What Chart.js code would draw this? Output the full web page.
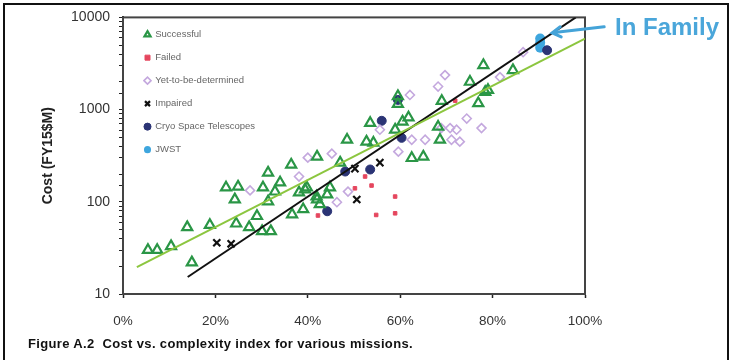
<!DOCTYPE html>
<html>
<head>
<meta charset="utf-8">
<script src="https://cdn.jsdelivr.net/npm/chart.js@4.4.1/dist/chart.umd.min.js"></script>
<style>
  html, body { margin: 0; padding: 0; background: #fff; }
  #wrap { position: relative; width: 731px; height: 360px; overflow: hidden; }
  #frame { position: absolute; left: 3px; top: 3px; width: 726px; height: 362px; border: 2px solid #111; box-sizing: border-box; pointer-events: none; }
  canvas { position: absolute; left: 0; top: 0; }
  #caption { position: absolute; left: 28px; top: 336px; font: bold 13px "Liberation Sans", Arial, sans-serif; letter-spacing: 0.35px; white-space: pre; color: #111; }
</style>
</head>
<body>
<div id="wrap">
  <canvas id="chart" width="731" height="360"></canvas>
  <div id="frame"></div>
  <div id="caption">Figure A.2  Cost vs. complexity index for various missions.</div>
</div>
<script>
// complexity index (fraction) vs cost (FY15 $M)
const successful = [
  [0.054, 30], [0.074, 30], [0.104, 33], [0.149, 22], [0.139, 53], [0.188, 56],
  [0.223, 143], [0.249, 146], [0.242, 106], [0.245, 58], [0.273, 53], [0.290, 70],
  [0.301, 48], [0.320, 48], [0.303, 143], [0.314, 207], [0.340, 162], [0.329, 129],
  [0.314, 101], [0.364, 253], [0.366, 73], [0.381, 126], [0.390, 83], [0.398, 143],
  [0.420, 309], [0.420, 106], [0.442, 120], [0.448, 143], [0.470, 266], [0.485, 471],
  [0.527, 449], [0.535, 715], [0.542, 437], [0.595, 1400], [0.595, 1150], [0.605, 740],
  [0.618, 820], [0.589, 605], [0.690, 1240], [0.682, 651], [0.686, 471], [0.784, 1552],
  [0.769, 1170], [0.751, 2000], [0.780, 3035], [0.625, 298], [0.650, 309], [0.844, 2680],
  [0.419, 114], [0.426, 94], [0.394, 136], [0.790, 1632]
];
const failed = [
  [0.422, 71], [0.502, 140], [0.524, 188], [0.538, 150], [0.548, 72], [0.589, 75],
  [0.589, 114], [0.719, 1250]
];
const yetToBeDetermined = [
  [0.275, 133], [0.381, 188], [0.400, 301], [0.452, 333], [0.463, 99], [0.487, 129],
  [0.556, 605], [0.596, 350], [0.621, 1442], [0.682, 1780], [0.697, 2366], [0.625, 471],
  [0.654, 471], [0.689, 630], [0.708, 630], [0.722, 605], [0.711, 471], [0.729, 449],
  [0.744, 800], [0.776, 630], [0.816, 2253], [0.866, 4190]
];
const impaired = [[0.203, 36], [0.234, 35], [0.506, 106], [0.502, 229], [0.556, 266]];
const cryo = [[0.442, 79], [0.481, 213], [0.535, 224], [0.560, 756], [0.603, 494], [0.595, 1273], [0.918, 4406]];
const jwst = [[0.903, 4700], [0.903, 5300], [0.903, 5900]];

const greenFit = [[0.03, 19.6], [1.0, 5900]];
const blackFit = [[0.14, 15.3], [0.98, 10000]];

const xTicks = [0, 0.2, 0.4, 0.6, 0.8, 1];
const yTicks = [10, 100, 1000, 10000];

const FONT = '"Liberation Sans", Arial, sans-serif';
const pts = arr => arr.map(p => ({ x: p[0], y: p[1] }));

// frame around the plot area
const plotBox = {
  id: 'plotBox',
  beforeDatasetsDraw(chart) {
    const { ctx, chartArea: a } = chart;
    ctx.save();
    ctx.strokeStyle = '#444';
    ctx.lineWidth = 2;
    ctx.strokeRect(a.left, a.top, a.right - a.left, a.bottom - a.top);
    ctx.restore();
  }
};

// put the legend in the top left of the plot
const legendSpot = {
  id: 'legendSpot',
  afterLayout(chart) {
    const lg = chart.legend, a = chart.chartArea;
    lg.left = a.left + 8;
    lg.right = a.right;
    lg.top = a.top - 1;
    lg.bottom = a.bottom;
  }
};

// "In Family" callout pointing at JWST
const callout = {
  id: 'callout',
  afterDraw(chart) {
    const { ctx } = chart;
    const xs = chart.scales.x, ys = chart.scales.y;
    const tx = xs.getPixelForValue(jwst[1][0]) + 12;
    const ty = ys.getPixelForValue(jwst[1][1]) - 10;
    ctx.save();
    ctx.strokeStyle = '#44a3d8';
    ctx.lineWidth = 3;
    ctx.lineCap = 'round';
    ctx.beginPath();
    ctx.moveTo(tx, ty);
    ctx.lineTo(tx + 52, ty - 6);
    ctx.moveTo(tx + 8, ty - 6);
    ctx.lineTo(tx, ty);
    ctx.lineTo(tx + 9, ty + 4);
    ctx.stroke();
    ctx.fillStyle = '#4aa6da';
    ctx.font = 'bold 24px ' + FONT;
    ctx.textBaseline = 'middle';
    ctx.fillText('In Family', 615, 28);
    ctx.restore();
  }
};

new Chart(document.getElementById('chart'), {
  type: 'scatter',
  data: {
    datasets: [
      { label: 'Successful', data: pts(successful), pointStyle: 'triangle', pointRadius: 5.8,
        borderColor: '#2a9646', backgroundColor: 'rgba(255,255,255,0)', borderWidth: 2.2, order: 1 },
      { label: 'Failed', data: pts(failed), pointStyle: 'rect', pointRadius: 2.5,
        borderColor: '#e5465e', backgroundColor: '#e5465e', borderWidth: 1, order: 1 },
      { label: 'Yet-to-be-determined', data: pts(yetToBeDetermined), pointStyle: 'rectRot', pointRadius: 4.5,
        borderColor: '#c4a8de', backgroundColor: 'rgba(255,255,255,0)', borderWidth: 1.6, order: 1 },
      { label: 'Impaired', data: pts(impaired), pointStyle: 'crossRot', pointRadius: 5,
        borderColor: '#111', backgroundColor: '#111', borderWidth: 2.2, order: 1 },
      { label: 'Cryo Space Telescopes', data: pts(cryo), pointStyle: 'circle', pointRadius: 4.5,
        borderColor: '#2b3475', backgroundColor: '#2b3475', borderWidth: 1, order: 1 },
      { label: 'JWST', data: pts(jwst), pointStyle: 'circle', pointRadius: 5,
        borderColor: '#3ea6de', backgroundColor: '#3ea6de', borderWidth: 0, order: 1 },
      { label: 'fit-green', data: pts(greenFit), showLine: true, pointRadius: 0,
        borderColor: '#8cc63f', borderWidth: 2, order: 0 },
      { label: 'fit-black', data: pts(blackFit), showLine: true, pointRadius: 0,
        borderColor: '#111', borderWidth: 2, order: 0 }
    ]
  },
  options: {
    responsive: false,
    animation: false,
    layout: { padding: { left: 40, top: 17, right: 146, bottom: 0 } },
    plugins: {
      tooltip: { enabled: false },
      legend: {
        position: 'chartArea',
        align: 'start',
        labels: {
          usePointStyle: true,
          boxWidth: 6,
          boxHeight: 5,
          padding: 13.5,
          color: '#666',
          font: { family: FONT, size: 9.5 },
          filter: item => !item.text.startsWith('fit-')
        }
      }
    },
    scales: {
      x: {
        type: 'linear', min: 0, max: 1,
        afterBuildTicks: s => { s.ticks = xTicks.map(v => ({ value: v })); },
        afterFit: s => { s.height = 66; },
        border: { display: true, color: '#222', width: 2 },
        grid: { drawOnChartArea: false, tickLength: 4, color: '#222', tickWidth: 1.5 },
        ticks: {
          padding: 15, color: '#333', font: { family: FONT, size: 13.5 },
          callback: v => Math.round(v * 100) + '%'
        }
      },
      y: {
        type: 'logarithmic', min: 10, max: 10000,
        afterFit: s => { s.width = 83; },
        border: { display: true, color: '#222', width: 2 },
        grid: { drawOnChartArea: false, tickLength: 4, color: '#222', tickWidth: 1 },
        title: {
          display: true, text: 'Cost (FY15$M)', color: '#222', padding: 0,
          font: { family: FONT, size: 14, weight: 'bold' }
        },
        ticks: {
          autoSkip: false, padding: 9, color: '#333', font: { family: FONT, size: 14 },
          callback: v => yTicks.includes(v) ? String(v) : ''
        }
      }
    }
  },
  plugins: [plotBox, legendSpot, callout]
});
</script>
</body>
</html>
